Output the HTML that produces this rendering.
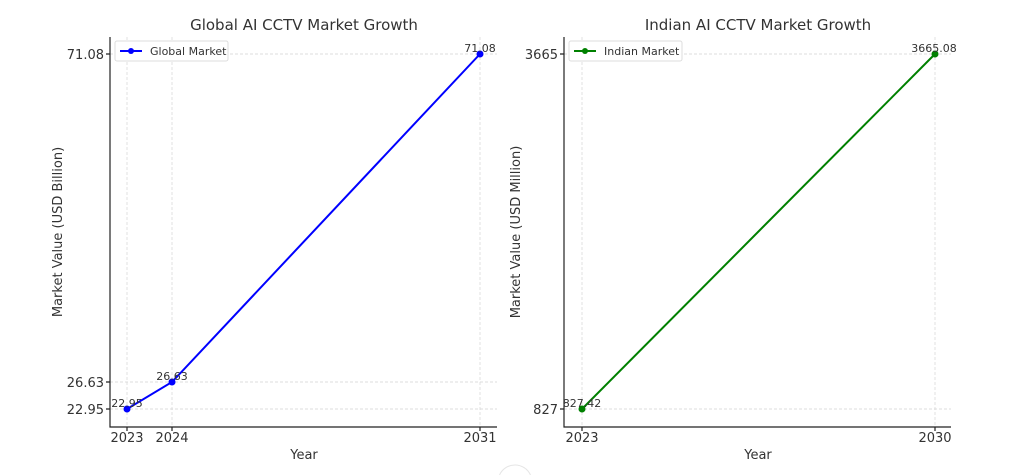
<!DOCTYPE html>
<html><head><meta charset="utf-8"><style>html,body{margin:0;background:#fff;width:1023px;height:475px;overflow:hidden}svg{display:block;overflow:hidden}text{font-family:"DejaVu Sans","Liberation Sans",sans-serif;fill:#333}</style></head><body>
<svg width="1023" height="475" viewBox="0 0 1023 475" xmlns="http://www.w3.org/2000/svg">
<g stroke="#d4d4d4" stroke-width="0.7" stroke-dasharray="3,2" fill="none">
<line x1="127" y1="37" x2="127" y2="427"/><line x1="172" y1="37" x2="172" y2="427"/><line x1="480" y1="37" x2="480" y2="427"/>
<line x1="110" y1="54" x2="497" y2="54"/><line x1="110" y1="382" x2="497" y2="382"/><line x1="110" y1="409" x2="497" y2="409"/>
<line x1="582" y1="37" x2="582" y2="427"/><line x1="935" y1="37" x2="935" y2="427"/>
<line x1="564" y1="54" x2="951" y2="54"/><line x1="564" y1="409" x2="951" y2="409"/>
</g>
<g stroke="#222" stroke-width="1.2" fill="none">
<path d="M110 37V427H497"/><path d="M564 37V427H951"/>
<path d="M127 427v4M172 427v4M480 427v4M110 54h-4M110 382h-4M110 409h-4M582 427v4M935 427v4M564 54h-4M564 409h-4"/>
</g>
<polyline points="127,409 172,382 480,54" stroke="#0000ff" stroke-width="2" fill="none"/>
<g fill="#0000ff"><circle cx="127" cy="409" r="3.5"/><circle cx="172" cy="382" r="3.5"/><circle cx="480" cy="54" r="3.5"/></g>
<polyline points="582,409 935,54" stroke="#008000" stroke-width="2" fill="none"/>
<g fill="#008000"><circle cx="582" cy="409" r="3.5"/><circle cx="935" cy="54" r="3.5"/></g>
<g font-size="11" text-anchor="middle">
<text x="127" y="407">22.95</text><text x="172" y="380">26.63</text><text x="480" y="52">71.08</text>
<text x="582" y="407">827.42</text><text x="934" y="52">3665.08</text>
</g>
<g font-size="13" text-anchor="middle">
<text x="127" y="442">2023</text><text x="172" y="442">2024</text><text x="480" y="442">2031</text>
<text x="582" y="442">2023</text><text x="935" y="442">2030</text>
<text x="304" y="459">Year</text><text x="758" y="459">Year</text>
<text x="304" y="30" font-size="15">Global AI CCTV Market Growth</text>
<text x="758" y="30" font-size="15">Indian AI CCTV Market Growth</text>
</g>
<g font-size="13" text-anchor="end">
<text x="104" y="59">71.08</text><text x="104" y="387">26.63</text><text x="104" y="414">22.95</text>
<text x="558" y="59">3665</text><text x="558" y="414">827</text>
</g>
<text font-size="13" text-anchor="middle" transform="translate(62,232) rotate(-90)">Market Value (USD Billion)</text>
<text font-size="13" text-anchor="middle" transform="translate(520,232) rotate(-90)">Market Value (USD Million)</text>
<g>
<rect x="115" y="41" width="113" height="20" rx="2" fill="#fff" stroke="#ddd"/>
<line x1="120" y1="51" x2="142" y2="51" stroke="#0000ff" stroke-width="2"/><circle cx="131" cy="51" r="3" fill="#0000ff"/>
<text x="150" y="55" font-size="11">Global Market</text>
<rect x="569" y="41" width="113" height="20" rx="2" fill="#fff" stroke="#ddd"/>
<line x1="574" y1="51" x2="596" y2="51" stroke="#008000" stroke-width="2"/><circle cx="585" cy="51" r="3" fill="#008000"/>
<text x="604" y="55" font-size="11">Indian Market</text>
</g>
<path d="M499.5 475 A17 17 0 0 1 530.5 475" fill="#fff" stroke="#e5e5e5"/>
</svg>
</body></html>
